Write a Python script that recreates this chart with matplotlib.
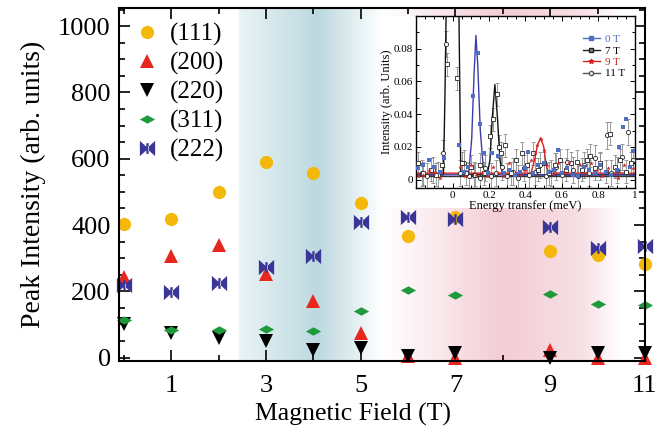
import numpy as np
import matplotlib
matplotlib.use("Agg")
import matplotlib.pyplot as plt
from matplotlib.path import Path
from matplotlib.patches import Rectangle
from matplotlib.ticker import MultipleLocator, FixedLocator

plt.rcParams["font.family"] = ["Liberation Serif", "DejaVu Serif"]

# ── Datos: intensidad de picos vs campo ───────────────────────────────────────
FIELD = [0, 1, 2, 3, 4, 5, 6, 7, 9, 10, 11]
P111 = [403, 419, 499, 591, 557, 467, 368, 425, 321, 311, 283]
P200 = [244, 306, 340, 251, 170, 73, 5, 0, 23, 0, 0]
P220 = [100, 75, 60, 50, 23, 30, 5, 15, 0, 15, 15]
P311 = [112, 82, 83, 87, 80, 140, 204, 189, 191, 163, 158]
P222 = [219, 198, 224, 273, 306, 408, 425, 419, 394, 331, 336]

# ── Datos del inset: espectros ────────────────────────────────────────────────
E_0T = [-0.19, -0.16, -0.13, -0.10, -0.07, -0.045, 0.035, 0.06, 0.085, 0.113, 0.137,
        0.153, 0.173, 0.195, 0.214, 0.25, 0.28, 0.31, 0.34, 0.37, 0.40, 0.415, 0.44,
        0.47, 0.50, 0.53, 0.555, 0.576, 0.60, 0.63, 0.66, 0.69, 0.72, 0.75, 0.78,
        0.81, 0.84, 0.87, 0.90, 0.912, 0.936, 0.954, 0.975, 0.99]
I_0T = [0.007, 0.009, 0.012, 0.008, 0.005, 0.013, 0.021, 0.005, 0.008, 0.051, 0.077,
        0.034, 0.016, 0.004, 0.016, 0.0145, 0.004, 0.006, 0.003, 0.005, 0.007, 0.017,
        0.004, 0.009, 0.010, 0.005, 0.006, 0.018, 0.004, 0.007, 0.003, 0.002, 0.008,
        0.006, 0.004, 0.009, 0.005, 0.003, 0.006, 0.020, 0.032, 0.037, 0.008, 0.0175]
E_7T = [-0.19, -0.16, -0.12, -0.09, -0.06, -0.033, 0.025, 0.05, 0.075, 0.10, 0.125,
        0.15, 0.175, 0.205, 0.222, 0.241, 0.255, 0.265, 0.287, 0.32, 0.35, 0.38, 0.41,
        0.44, 0.47, 0.50, 0.53, 0.56, 0.59, 0.62, 0.65, 0.68, 0.71, 0.74, 0.753, 0.78,
        0.81, 0.84, 0.863, 0.89, 0.92, 0.95, 0.98]
I_7T = [0.010, 0.004, 0.006, 0.003, 0.009, 0.0705, 0.062, 0.010, 0.004, 0.008, 0.003,
        0.009, 0.004, 0.0265, 0.037, 0.052, 0.020, 0.016, 0.021, 0.004, 0.012, 0.016,
        0.009, 0.016, 0.006, 0.010, 0.004, 0.009, 0.012, 0.006, 0.010, 0.011, 0.006,
        0.012, 0.0145, 0.007, 0.010, 0.005, 0.028, 0.008, 0.012, 0.005, 0.010]
E_9T = [-0.19, -0.16, -0.13, -0.10, -0.07, 0.04, 0.07, 0.10, 0.13, 0.16, 0.19, 0.22,
        0.25, 0.28, 0.31, 0.34, 0.37, 0.40, 0.43, 0.45, 0.465, 0.483, 0.50, 0.52, 0.55,
        0.58, 0.61, 0.64, 0.67, 0.70, 0.73, 0.76, 0.79, 0.82, 0.85, 0.88, 0.91, 0.94,
        0.97, 0.99]
I_9T = [0.002, 0.003, 0.006, 0.004, 0.001, 0.008, 0.002, 0.009, 0.003, 0.004, 0.002,
        0.008, 0.004, 0.002, 0.010, 0.004, 0.003, 0.006, 0.012, 0.016, 0.021, 0.025,
        0.018, 0.009, 0.004, 0.010, 0.005, 0.011, 0.003, 0.009, 0.004, 0.010, 0.006,
        0.002, 0.007, 0.004, 0.001, 0.009, 0.008, 0.007]
E_11T = [-0.17, -0.14, -0.11, -0.08, -0.05, -0.037, 0.04, 0.06, 0.09, 0.12, 0.15, 0.18,
         0.21, 0.24, 0.27, 0.30, 0.33, 0.36, 0.39, 0.42, 0.45, 0.48, 0.51, 0.54, 0.57,
         0.60, 0.63, 0.66, 0.69, 0.72, 0.75, 0.78, 0.81, 0.845, 0.87, 0.90, 0.93, 0.963,
         0.99]
I_11T = [0.004, 0.002, 0.006, 0.003, 0.016, 0.083, 0.004, 0.010, 0.002, 0.003, 0.001,
         0.007, 0.002, 0.004, 0.008, 0.002, 0.005, 0.001, 0.007, 0.003, 0.005, 0.009,
         0.002, 0.004, 0.008, 0.003, 0.011, 0.006, 0.002, 0.009, 0.004, 0.013, 0.008,
         0.027, 0.004, 0.006, 0.014, 0.029, 0.012]
ERR_7T = 0.007
ERR_11T = 0.008

# curvas de ajuste
FIT_E_0T = [-0.2, 0.07, 0.09, 0.105, 0.118, 0.128, 0.138, 0.152, 0.168, 0.185, 1.0]
FIT_I_0T = [0.003, 0.003, 0.006, 0.025, 0.065, 0.088, 0.070, 0.030, 0.008, 0.003, 0.003]
FIT_E_7T = [-0.2, -0.05, -0.042, -0.033, 0.033, 0.045, 0.19, 0.205, 0.218, 0.232, 0.246,
            0.26, 0.275, 1.0]
FIT_I_7T = [0.003, 0.003, 0.05, 0.12, 0.12, 0.003, 0.003, 0.012, 0.038, 0.058, 0.038,
            0.012, 0.003, 0.003]
FIT_E_9T = [-0.2, 0.43, 0.45, 0.465, 0.483, 0.50, 0.515, 0.53, 1.0]
FIT_I_9T = [0.004, 0.004, 0.012, 0.021, 0.0255, 0.020, 0.008, 0.004, 0.004]
FIT_E_11T = [-0.2, 1.0]
FIT_I_11T = [0.002, 0.002]

# ── Marcadores ────────────────────────────────────────────────────────────────
bow = Path(
    [(-1, 1), (0, 0.1), (0, -0.1), (-1, -1), (-1, 1),
     (1, 1), (0, 0.1), (0, -0.1), (1, -1), (1, 1),
     (-0.15, 0.7), (0.15, 0.7), (0.15, -0.7), (-0.15, -0.7), (-0.15, 0.7)],
    [Path.MOVETO, Path.LINETO, Path.LINETO, Path.LINETO, Path.CLOSEPOLY] * 3)
flat_diamond = Path([(-1, 0), (0, 0.55), (1, 0), (0, -0.55), (-1, 0)],
                    [Path.MOVETO, Path.LINETO, Path.LINETO, Path.LINETO, Path.CLOSEPOLY])

C111 = "#F4B80A"
C200 = "#E8271E"
C220 = "#000000"
C311 = "#1E9A3C"
C222 = "#3A3596"

fig = plt.figure(figsize=(6.69, 4.38), dpi=100)
ax = fig.add_axes([0.178, 0.176, 0.786, 0.806])

XMIN, XMAX, YMIN, YMAX = -0.1, 11.0, -10, 1055

# ── Fondos degradados ─────────────────────────────────────────────────────────
xg = np.linspace(XMIN, XMAX, 800)
blue = np.interp(xg, [2.42, 2.43, 4.1, 5.45], [0, 0.3, 1.0, 0], left=0, right=0)
pink = np.interp(xg, [5.45, 6.3, 8.0, 9.7, 10.5], [0, 0.3, 1.0, 0.6, 0], left=0, right=0)
cb = np.array([188, 217, 224]) / 255
cp = np.array([243, 204, 213]) / 255
rgb = np.ones((1, len(xg), 3))
rgb[0] = 1 - blue[:, None] * (1 - cb) - pink[:, None] * (1 - cp)
ax.imshow(rgb, extent=[XMIN, XMAX, YMIN, YMAX], aspect="auto", zorder=0,
          interpolation="bilinear")
ax.add_patch(Rectangle((0.496, 0.433), 0.504, 0.545, transform=ax.transAxes,
                       facecolor="white", edgecolor="none", zorder=1))

ms = dict(linestyle="none", zorder=3, markeredgewidth=0, clip_on=False)
ax.plot(FIELD, P111, marker="o", color=C111, markersize=9.5, label="(111)", **ms)
ax.plot(FIELD, P200, marker="^", color=C200, markersize=10.5, label="(200)", **ms)
ax.plot(FIELD, P220, marker="v", color=C220, markersize=10.5, label="(220)", **ms)
ax.plot(FIELD, P311, marker=flat_diamond, color=C311, markersize=11, label="(311)", **ms)
ax.plot(FIELD, P222, marker=bow, color=C222, markersize=11, label="(222)", **ms)

ax.set_xlim(XMIN, XMAX)
ax.set_ylim(YMIN, YMAX)
ax.xaxis.set_major_locator(FixedLocator([1, 3, 5, 7, 9, 11]))
ax.xaxis.set_minor_locator(FixedLocator([0, 2, 4, 6, 8, 10]))
ax.yaxis.set_major_locator(MultipleLocator(200))
ax.yaxis.set_minor_locator(MultipleLocator(50))
ax.tick_params(which="both", direction="in", top=True, right=True, width=1.2,
               labelsize=19, colors="black")
ax.tick_params(which="major", length=8, pad=6)
ax.tick_params(axis="x", which="major", pad=10)
ax.tick_params(which="minor", length=4.5)
for s in ax.spines.values():
    s.set_linewidth(1.5)
    s.set_zorder(4)
ax.set_xlabel("Magnetic Field (T)", fontsize=18.5)
ax.xaxis.set_label_coords(0.445, -0.118)
ax.set_ylabel("Peak Intensity (arb. units)", fontsize=20, labelpad=9)
leg = ax.legend(loc="upper left", bbox_to_anchor=(0.0, 1.0), frameon=False,
                fontsize=18, handlelength=1.0, handletextpad=0.45,
                labelspacing=0.24, borderaxespad=0.2)

# ── Inset ─────────────────────────────────────────────────────────────────────
ins = fig.add_axes([0.622, 0.571, 0.327, 0.393])
ins.set_zorder(5)
gray = "#8A8A8A"
ins.errorbar(E_7T, I_7T, yerr=ERR_7T, fmt="none", ecolor=gray, elinewidth=0.6,
             capsize=1.2, capthick=0.6, zorder=1)
ins.errorbar(E_11T, I_11T, yerr=ERR_11T, fmt="none", ecolor=gray, elinewidth=0.6,
             capsize=1.2, capthick=0.6, zorder=1)
ins.plot(FIT_E_11T, FIT_I_11T, color="#333333", lw=1.0, zorder=2)
ins.plot(FIT_E_9T, FIT_I_9T, color="#D42020", lw=1.0, zorder=2)
ins.plot(FIT_E_7T, FIT_I_7T, color="#111111", lw=1.0, zorder=2)
ins.plot(FIT_E_0T, FIT_I_0T, color="#3C3CA8", lw=1.0, zorder=2)
ins.plot(E_11T, I_11T, "o", mfc="white", mec="#222222", ms=3, mew=0.6, zorder=3)
ins.plot(E_7T, I_7T, "s", mfc="white", mec="#222222", ms=3, mew=0.6, zorder=3)
ins.plot(E_9T, I_9T, "*", color="#D42020", ms=3.5, mew=0, zorder=3)
ins.plot(E_0T, I_0T, "s", color="#4E6FC4", ms=3, mew=0, zorder=3)

ins.plot([], [], "-s", color="#4E6FC4", ms=2.5, lw=1.0, label="0 T")
ins.plot([], [], "-s", color="#222222", mfc="#888888", ms=2.5, lw=1.0, label="7 T")
ins.plot([], [], "-*", color="#D42020", ms=3.5, lw=1.0, label="9 T")
ins.plot([], [], "-o", color="#555555", mfc="white", ms=3, lw=1.0, label="11 T")
lg = ins.legend(loc="upper right", bbox_to_anchor=(1.0, 0.95), frameon=False,
                fontsize=8, handlelength=1.6, handletextpad=0.4, labelspacing=0.15)
for t, c in zip(lg.get_texts(), ["#4E6FC4", "black", "#D42020", "black"]):
    t.set_color(c)

ins.set_xlim(-0.2, 1.0)
ins.set_ylim(-0.005, 0.1)
ins.set_xticks([0, 0.2, 0.4, 0.6, 0.8, 1.0])
ins.set_xticklabels(["0", "0.2", "0.4", "0.6", "0.8", "1"])
ins.set_yticks([0, 0.02, 0.04, 0.06, 0.08])
ins.set_yticklabels(["0", "0.02", "0.04", "0.06", "0.08"])
ins.xaxis.set_minor_locator(MultipleLocator(0.05))
ins.yaxis.set_minor_locator(MultipleLocator(0.01))
ins.tick_params(which="both", direction="in", top=True, right=True, labelsize=8,
                width=0.7, pad=2)
ins.tick_params(which="major", length=3.5)
ins.tick_params(which="minor", length=2)
for s in ins.spines.values():
    s.set_linewidth(1.0)
ins.set_xlabel("Energy transfer (meV)", fontsize=9, labelpad=0)
ins.set_ylabel("Intensity (arb. Units)", fontsize=9, labelpad=1)

fig.savefig("out.png", dpi=100)
